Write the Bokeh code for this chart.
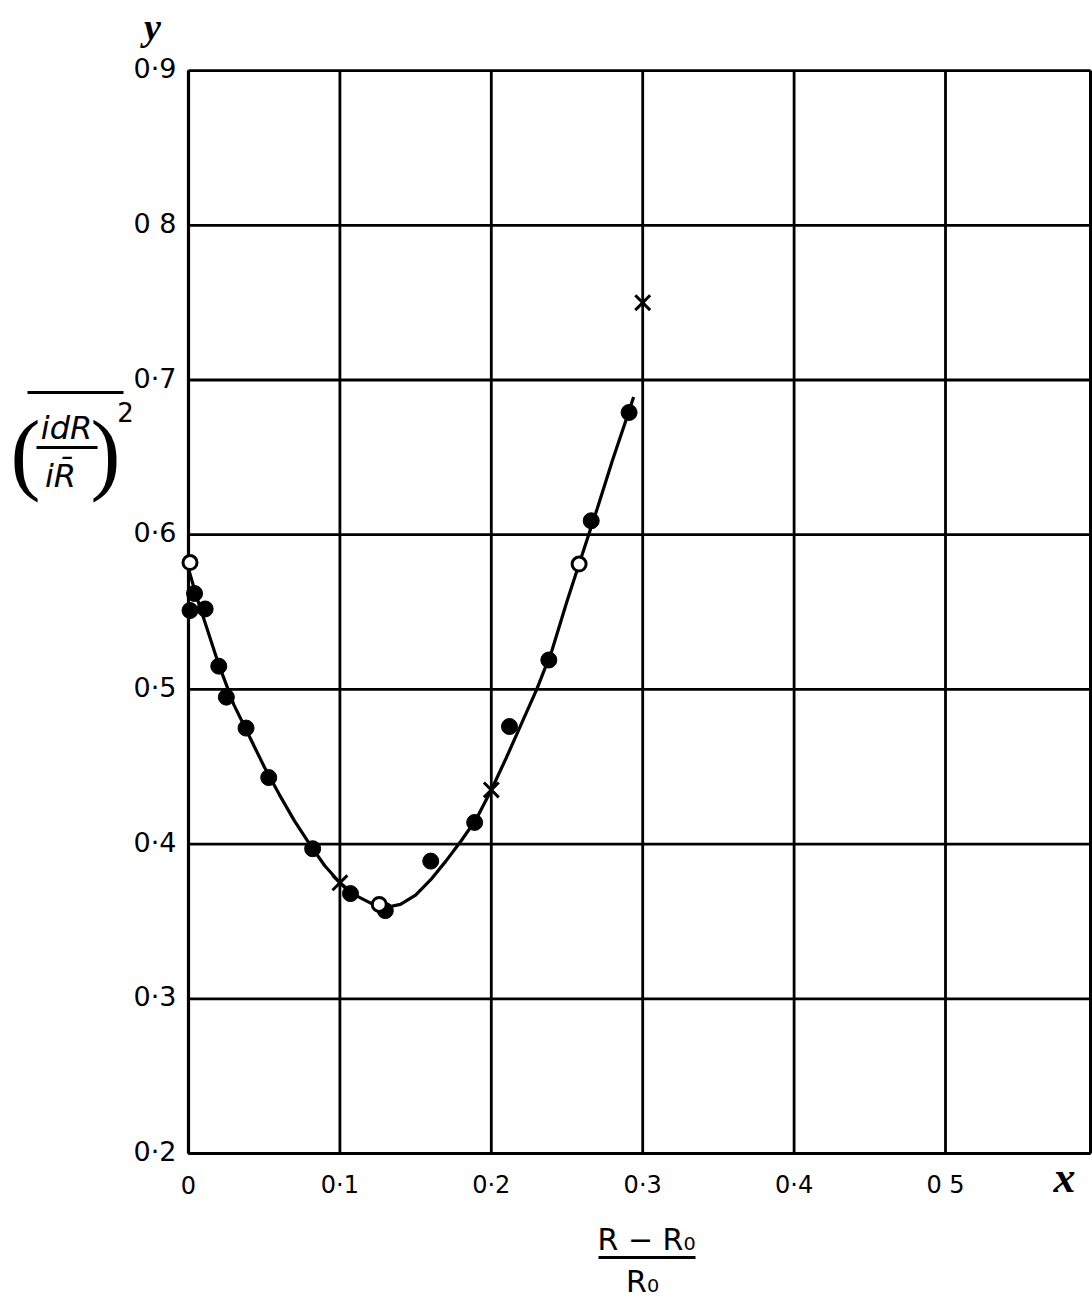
from bokeh.plotting import figure
from bokeh.models import Label, Range1d
from bokeh.embed import file_html
from bokeh.resources import INLINE

# ---------------- data ----------------
x_ticks = [0.0, 0.1, 0.2, 0.3, 0.4, 0.5]
x_tick_labels = ["0", "0·1", "0·2", "0·3", "0·4", "0 5"]
y_ticks = [0.2, 0.3, 0.4, 0.5, 0.6, 0.7, 0.8, 0.9]
y_tick_labels = ["0·2", "0·3", "0·4", "0·5", "0·6", "0·7", "0 8", "0·9"]

# filled points
filled_x = [0.001, 0.004, 0.011, 0.020, 0.025, 0.038, 0.053, 0.082, 0.107,
            0.130, 0.160, 0.189, 0.212, 0.238, 0.266, 0.291]
filled_y = [0.551, 0.562, 0.552, 0.515, 0.495, 0.475, 0.443, 0.397, 0.368,
            0.357, 0.389, 0.414, 0.476, 0.519, 0.609, 0.679]
# open circles
open_x = [0.001, 0.126, 0.258]
open_y = [0.582, 0.361, 0.581]
# crosses
cross_x = [0.100, 0.200, 0.300]
cross_y = [0.375, 0.435, 0.750]
# drawn curve
curve_x = [0.000, 0.005, 0.010, 0.020, 0.030, 0.040, 0.050, 0.060, 0.070, 0.080,
           0.090, 0.100, 0.110, 0.120, 0.130, 0.140, 0.150, 0.160, 0.170, 0.180,
           0.190, 0.200, 0.210, 0.220, 0.230, 0.240, 0.250, 0.260, 0.270, 0.280,
           0.290, 0.294]
curve_y = [0.578, 0.561, 0.546, 0.516, 0.490, 0.470, 0.450, 0.432, 0.415, 0.400,
           0.386, 0.375, 0.367, 0.362, 0.359, 0.361, 0.367, 0.377, 0.389, 0.402,
           0.416, 0.435, 0.456, 0.478, 0.500, 0.525, 0.557, 0.587, 0.617, 0.648,
           0.677, 0.689]

# ---------------- layout ----------------
W, H = 1092, 1300
ORIGIN_PX = 188          # page x of x = 0
BASE_PY = 1153           # page y of y = 0.2
PX_PER_X = 1514.0
PX_PER_Y = 1547.0
X_LO, Y_LO, Y_HI = 0.0, 0.2, 0.9
GRID_RIGHT_PX = 1090     # page x of the right edge of the ruled grid


def dx(page_x):
    return X_LO + (page_x - ORIGIN_PX) / PX_PER_X


def dy(page_y):
    return Y_LO + (BASE_PY - page_y) / PX_PER_Y


x_hi = dx(GRID_RIGHT_PX)

p = figure(width=W, height=H, output_backend="svg", toolbar_location=None,
           x_range=Range1d(dx(0), dx(W)), y_range=Range1d(dy(H), dy(0)),
           min_border=0)
p.xaxis.visible = False
p.yaxis.visible = False
p.grid.visible = False
p.outline_line_color = None
p.background_fill_color = "white"
p.border_fill_color = "white"

# ruled grid (from the tick lists) and its border
p.segment(x0=x_ticks, y0=[Y_LO] * len(x_ticks), x1=x_ticks, y1=[Y_HI] * len(x_ticks),
          line_color="black", line_width=2.8)
p.segment(x0=[X_LO] * len(y_ticks), y0=y_ticks, x1=[x_hi] * len(y_ticks), y1=y_ticks,
          line_color="black", line_width=2.8)
p.segment(x0=[x_hi], y0=[Y_LO], x1=[x_hi], y1=[Y_HI], line_color="black", line_width=3)
p.segment(x0=[X_LO], y0=[Y_LO], x1=[X_LO], y1=[Y_HI], line_color="black", line_width=3.2)
p.segment(x0=[X_LO], y0=[Y_LO], x1=[x_hi], y1=[Y_LO], line_color="black", line_width=3.2)

# tick labels
p.text(x=x_ticks, y=[Y_LO] * len(x_ticks), text=x_tick_labels,
       text_font={"value": "DejaVu Sans"}, text_font_size="24px",
       text_color="black", text_align="center", text_baseline="middle",
       y_offset=31)
p.text(x=[X_LO] * len(y_ticks), y=y_ticks, text=y_tick_labels,
       text_font={"value": "DejaVu Sans"}, text_font_size="27px",
       text_color="black", text_align="right", text_baseline="middle",
       x_offset=-12, y_offset=-2)

# curve and points
p.line(curve_x, curve_y, line_color="black", line_width=3.2)
p.scatter(filled_x, filled_y, marker="circle", size=16,
          fill_color="black", line_color="black", line_width=1)
p.scatter(open_x, open_y, marker="circle", size=14,
          fill_color="white", line_color="black", line_width=3)
p.scatter(cross_x, cross_y, marker="x", size=21,
          line_color="black", line_width=3)


def add_text(page_x, page_y, text, size, font="DejaVu Sans", style="normal",
             align="center"):
    p.add_layout(Label(x=dx(page_x), y=dy(page_y), text=text,
                       text_font=font, text_font_size=f"{size}px",
                       text_font_style=style, text_color="black",
                       text_align=align, text_baseline="middle"))


def add_bar(px0, px1, py, width=3):
    p.segment(x0=[dx(px0)], y0=[dy(py)], x1=[dx(px1)], y1=[dy(py)],
              line_color="black", line_width=width)


# axis letters
add_text(152, 26, "y", 38, font="Liberation Serif", style="bold italic")
add_text(1064, 1177, "x", 44, font="Liberation Serif", style="bold italic")

# x title: (R - R0) / R0
add_text(646, 1239, "R − R₀", 30)
add_bar(598, 695, 1257)
add_text(642, 1281, "R₀", 30)

# y title: overline ( idR / iR̄ )^2
add_bar(27, 123, 392)
add_text(25, 452, "(", 90, font="Liberation Serif")
add_text(66, 427, "idR", 32, style="italic")
add_bar(36, 97, 447)
add_text(60, 475, "iR\u0304", 32, style="italic")
add_text(105, 452, ")", 90, font="Liberation Serif")
add_text(125, 411, "2", 26)

open("out.html", "w").write(file_html(p, INLINE))
